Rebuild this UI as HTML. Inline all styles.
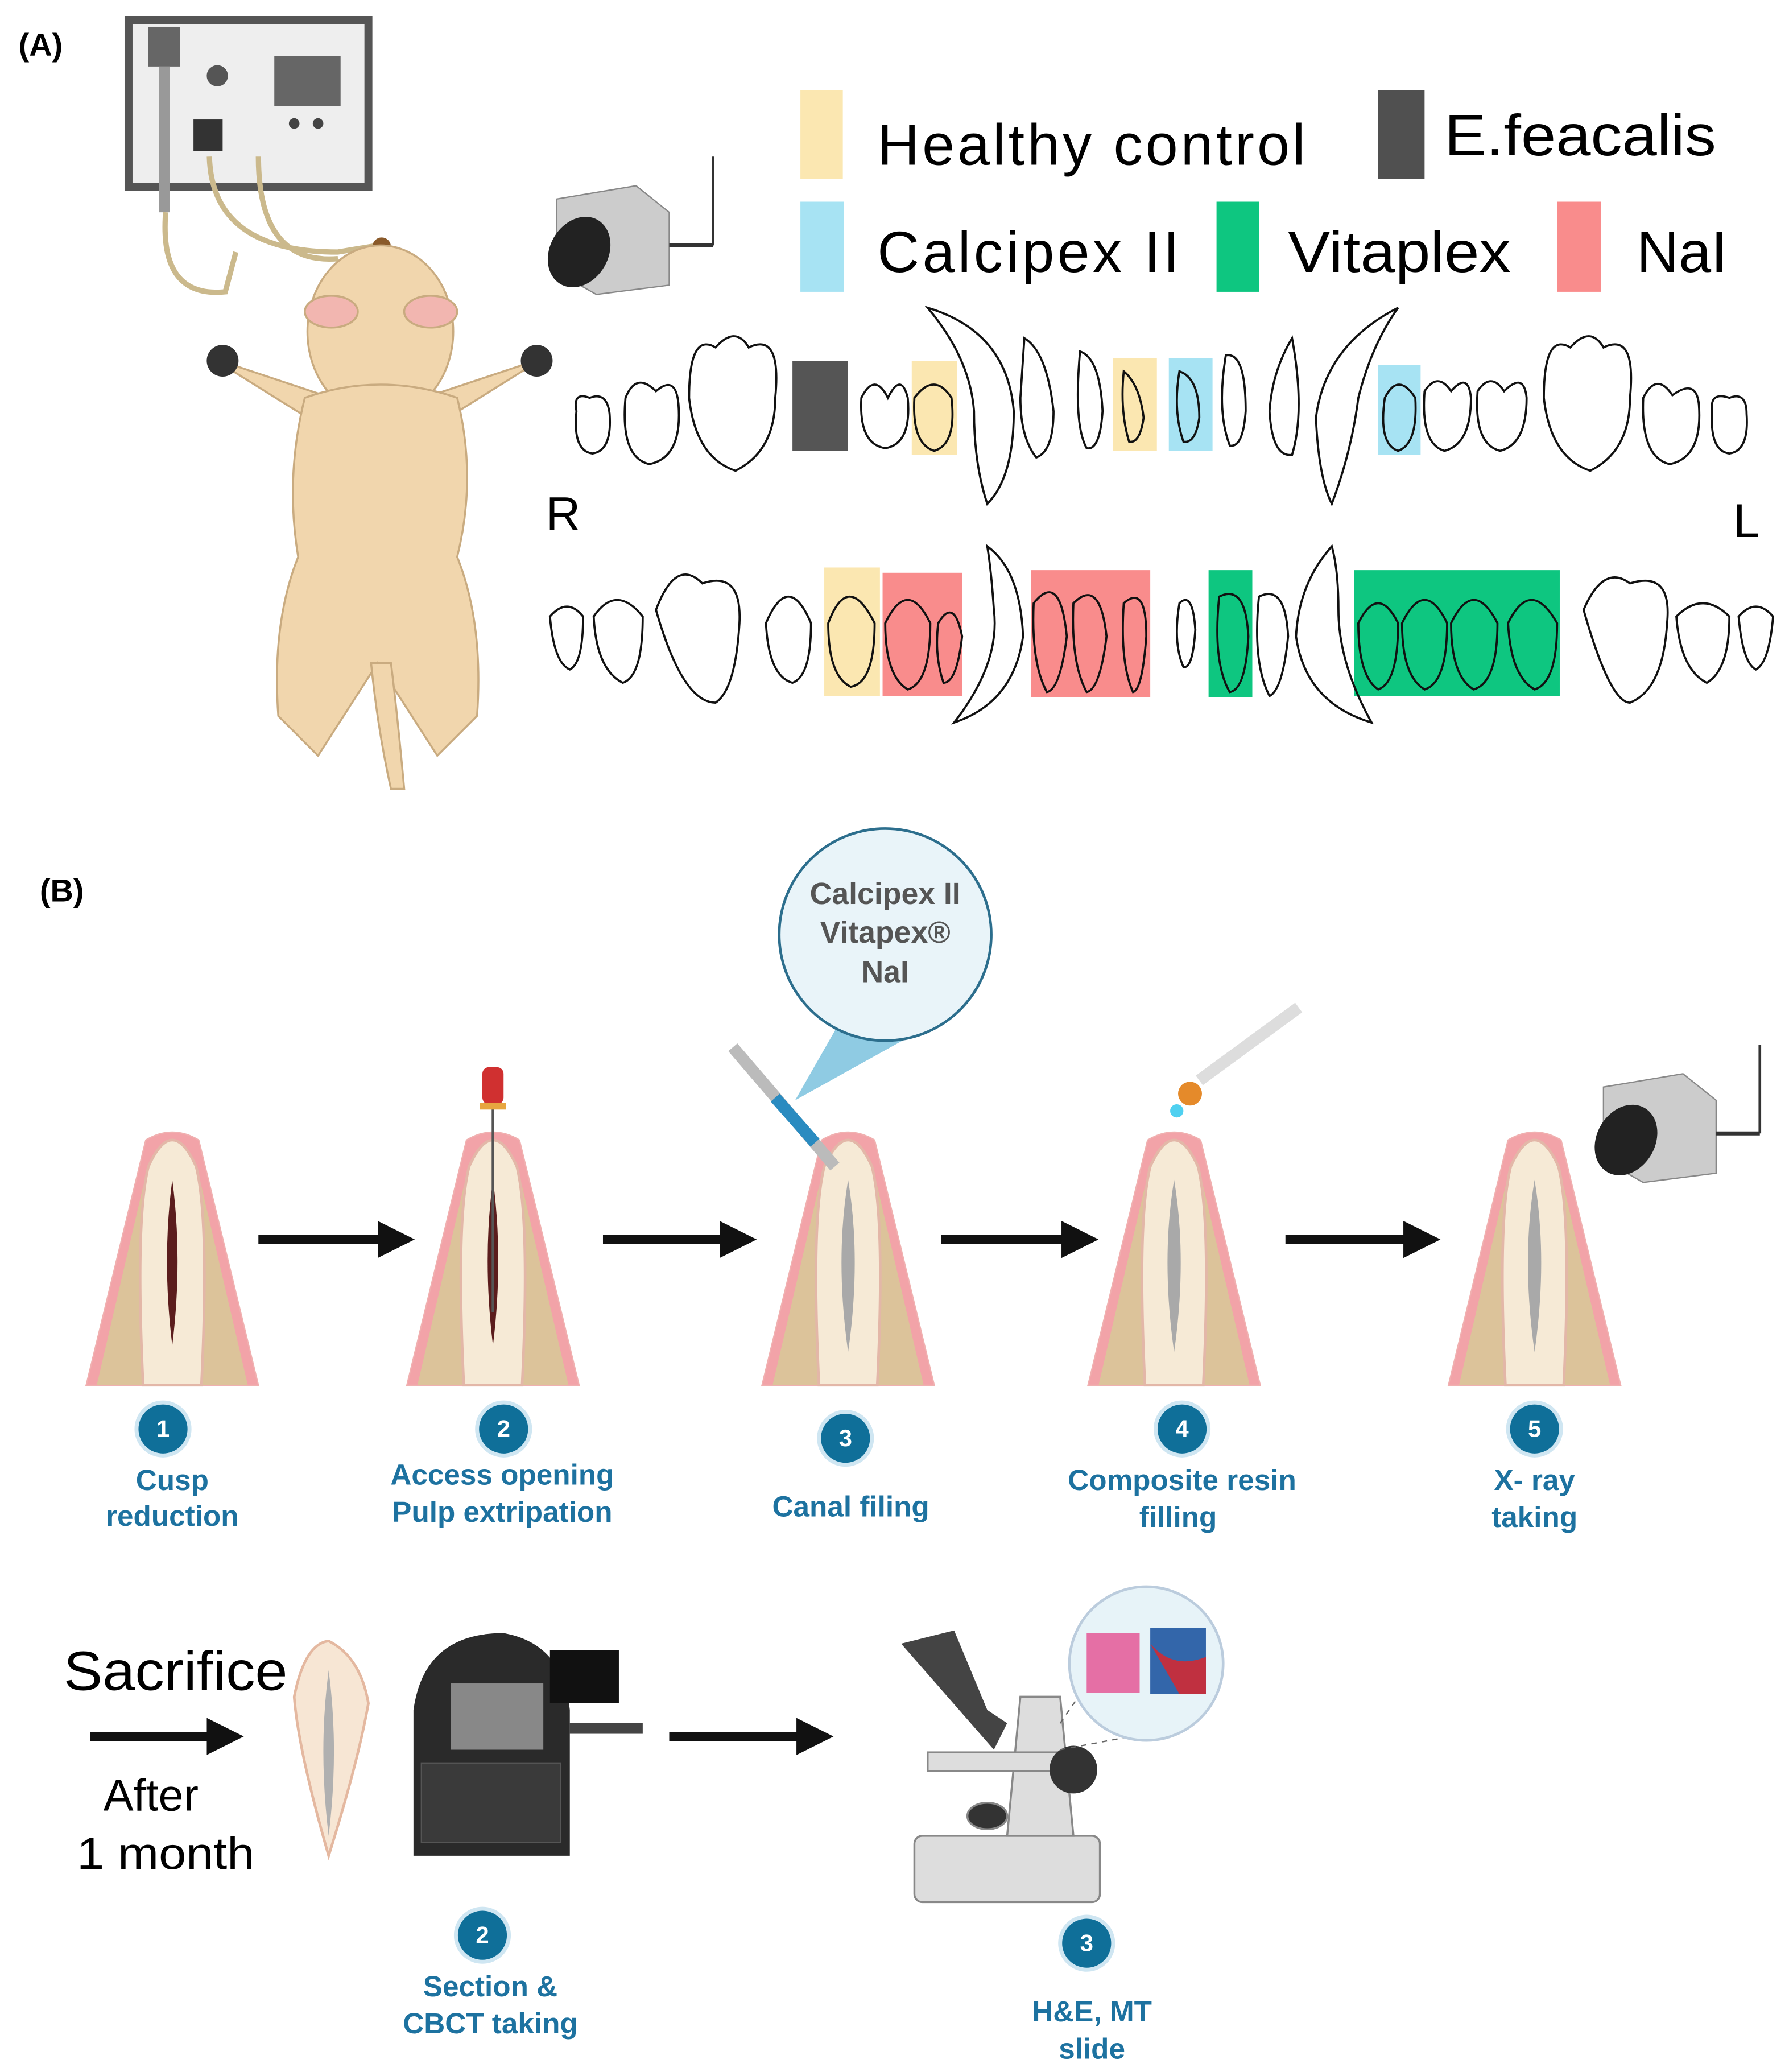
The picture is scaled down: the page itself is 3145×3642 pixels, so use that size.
<!DOCTYPE html>
<html><head><meta charset="utf-8"><style>
html,body{margin:0;padding:0;background:#fff;}
svg{display:block}
text{font-family:"Liberation Sans",sans-serif}
.lab{font-weight:bold;fill:#1d72a0;font-size:22px;text-anchor:middle}
</style></head><body>
<svg width="3145" height="3642" viewBox="0 0 1350 1563" xmlns="http://www.w3.org/2000/svg">
<defs>
<g id="tooth">
  <path d="M-65,185 L-20,0 Q0,-12 20,0 L65,185 Z" fill="#f2a3a8" stroke="#f0b0b0" stroke-width="1"/>
  <path d="M-57,185 L-22,35 L22,35 L57,185 Z" fill="#dcc39a"/>
  <path d="M-22,185 Q-28,60 -18,20 Q0,-20 18,20 Q28,60 22,185 Z" fill="#f6ead6" stroke="#e3b7a8" stroke-width="2"/>
</g>
<g id="num"><circle r="20" fill="#0f6f99" stroke="#cfe6f2" stroke-width="3"/></g>
<marker id="ah" markerWidth="4" markerHeight="4" refX="1" refY="2" orient="auto"><path d="M0,0 L4,2 L0,4 Z" fill="#111"/></marker>
</defs>

<text x="14" y="42" font-size="24" font-weight="bold">(A)</text>
<rect x="97" y="15" width="181" height="126" fill="#eee" stroke="#555" stroke-width="6"/>
<rect x="207" y="42" width="50" height="38" fill="#666"/>
<circle cx="164" cy="57" r="8" fill="#555"/>
<circle cx="222" cy="93" r="4" fill="#444"/><circle cx="240" cy="93" r="4" fill="#444"/>
<rect x="146" y="90" width="22" height="24" fill="#333"/>
<rect x="112" y="20" width="24" height="30" fill="#666"/>
<rect x="120" y="50" width="8" height="110" fill="#999"/>
<path d="M125,160 Q120,225 170,220 L178,190 M158,118 Q160,190 255,190 L285,185 M195,118 Q195,200 255,195" fill="none" stroke="#cbb98c" stroke-width="4"/>
<circle cx="288" cy="186" r="7" fill="#8a5a2a"/>
<g fill="#f1d6ad" stroke="#c9ab80" stroke-width="1.5">
<path d="M160,270 L240,320 L250,300 Z"/><path d="M410,270 L330,320 L320,300 Z"/>
<ellipse cx="287" cy="250" rx="55" ry="65"/>
<path d="M230,300 Q215,360 225,420 Q205,470 210,540 L240,570 L285,500 L330,570 L360,540 Q365,470 345,420 Q360,360 345,300 Q287,280 230,300 Z"/>
<path d="M280,500 Q285,550 295,595 L305,595 Q300,540 295,500 Z"/>
<ellipse cx="250" cy="235" rx="20" ry="12" fill="#f2b6b0"/><ellipse cx="325" cy="235" rx="20" ry="12" fill="#f2b6b0"/>
</g>
<ellipse cx="168" cy="272" rx="12" ry="12" fill="#333"/><ellipse cx="405" cy="272" rx="12" ry="12" fill="#333"/>
<g>
<path d="M420,150 L480,140 L505,160 L505,215 L450,222 L420,205 Z" fill="#ccc" stroke="#888"/>
<ellipse cx="437" cy="190" rx="22" ry="28" fill="#222" transform="rotate(30 437 190)"/>
<line x1="505" y1="185" x2="538" y2="185" stroke="#333" stroke-width="3"/><line x1="538" y1="185" x2="538" y2="118" stroke="#333" stroke-width="2"/>
</g>
<rect x="604" y="68" width="32" height="67" fill="#fbe7b1"/>
<text x="662" y="124" font-size="44" textLength="323" lengthAdjust="spacing">Healthy  control</text>
<rect x="1040" y="68" width="35" height="67" fill="#505050"/>
<text x="1090" y="117" font-size="44" textLength="205" lengthAdjust="spacingAndGlyphs">E.feacalis</text>
<rect x="604" y="152" width="33" height="68" fill="#a7e3f3"/>
<text x="662" y="205" font-size="44" textLength="228" lengthAdjust="spacing">Calcipex  II</text>
<rect x="918" y="152" width="32" height="68" fill="#0ec680"/>
<text x="972" y="205" font-size="44" textLength="168" lengthAdjust="spacingAndGlyphs">Vitaplex</text>
<rect x="1175" y="152" width="33" height="68" fill="#f98c8c"/>
<text x="1235" y="205" font-size="44">NaI</text>
<rect x="598" y="272" width="42" height="68" fill="#555"/>
<rect x="688" y="272" width="34" height="71" fill="#fbe7b1"/>
<rect x="840" y="270" width="33" height="70" fill="#fbe7b1"/>
<rect x="882" y="270" width="33" height="70" fill="#a7e3f3"/>
<rect x="1040" y="275" width="32" height="68" fill="#a7e3f3"/>
<g fill="none" stroke="#111" stroke-width="1.6">
<path d="M435,310 Q432,295 445,300 Q458,295 460,312 Q462,340 447,342 Q432,340 435,310Z"/>
<path d="M472,300 Q480,280 495,295 Q510,282 512,305 Q515,345 490,350 Q468,345 472,300Z"/>
<path d="M520,300 Q520,250 540,262 Q555,245 565,262 Q590,250 585,300 Q585,340 555,355 Q525,345 520,300Z"/>
<path d="M650,300 Q660,280 670,300 Q680,280 685,300 Q688,335 668,338 Q648,335 650,300Z"/>
<path d="M700,232 Q760,250 765,310 Q765,360 745,380 Q735,350 735,310 Q732,270 700,232Z"/>
<path d="M690,300 Q705,280 718,300 Q722,335 705,340 Q688,335 690,300Z"/>
<path d="M773,255 Q790,265 795,310 Q795,340 782,345 Q770,330 770,300Z"/>
<path d="M815,265 Q830,270 832,310 Q830,340 820,338 Q810,320 815,265Z"/>
<path d="M848,280 Q860,290 863,315 Q860,335 852,333 Q845,310 848,280Z"/>
<path d="M890,280 Q905,285 905,315 Q902,335 893,333 Q885,310 890,280Z"/>
<path d="M925,268 Q940,265 940,310 Q938,338 928,336 Q918,310 925,268Z"/>
<path d="M975,255 Q960,280 958,310 Q960,345 975,343 Q985,310 975,255Z"/>
<path d="M1055,232 Q1000,260 993,315 Q995,360 1005,380 Q1020,340 1025,300 Q1035,260 1055,232Z"/>
<path d="M1045,300 Q1055,280 1068,300 Q1070,335 1055,340 Q1040,335 1045,300Z"/>
<path d="M1075,295 Q1085,280 1095,295 Q1108,280 1110,300 Q1110,335 1090,340 Q1072,335 1075,295Z"/>
<path d="M1115,295 Q1125,280 1135,295 Q1150,280 1152,300 Q1152,335 1132,340 Q1112,335 1115,295Z"/>
<path d="M1165,300 Q1165,250 1185,262 Q1200,245 1210,262 Q1235,250 1230,300 Q1230,340 1200,355 Q1170,345 1165,300Z"/>
<path d="M1240,300 Q1250,280 1262,298 Q1280,285 1282,305 Q1285,345 1260,350 Q1238,345 1240,300Z"/>
<path d="M1292,310 Q1290,295 1305,300 Q1318,295 1318,312 Q1320,340 1305,342 Q1290,340 1292,310Z"/>
</g>
<text x="412" y="400" font-size="36">R</text>
<text x="1308" y="405" font-size="36">L</text>
<rect x="622" y="428" width="42" height="97" fill="#fbe7b1"/>
<rect x="666" y="432" width="60" height="93" fill="#f98c8c"/>
<rect x="778" y="430" width="90" height="96" fill="#f98c8c"/>
<rect x="912" y="430" width="33" height="96" fill="#0ec680"/>
<rect x="1022" y="430" width="155" height="95" fill="#0ec680"/>
<g fill="none" stroke="#111" stroke-width="1.6">
<path d="M415,465 Q428,450 440,465 Q440,500 430,505 Q418,500 415,465Z"/>
<path d="M448,465 Q465,440 485,465 Q485,510 470,515 Q450,505 448,465Z"/>
<path d="M495,460 Q510,420 530,440 Q560,430 558,470 Q555,520 540,530 Q515,530 495,460Z"/>
<path d="M578,470 Q595,430 612,470 Q612,510 598,515 Q580,510 578,470Z"/>
<path d="M625,470 Q640,430 660,470 Q660,515 642,518 Q625,510 625,470Z"/>
<path d="M668,470 Q685,435 702,470 Q702,515 685,520 Q668,510 668,470Z"/>
<path d="M708,470 Q720,450 726,480 Q722,515 712,515 Q705,495 708,470Z"/>
<path d="M745,412 Q770,430 772,480 Q765,530 720,545 Q755,500 750,460 Q748,430 745,412Z"/>
<path d="M780,455 Q800,430 805,480 Q800,520 790,522 Q778,500 780,455Z"/>
<path d="M810,455 Q830,435 835,480 Q830,520 820,522 Q808,500 810,455Z"/>
<path d="M848,455 Q865,440 865,480 Q862,520 855,522 Q845,500 848,455Z"/>
<path d="M890,455 Q900,445 902,475 Q900,505 893,503 Q885,485 890,455Z"/>
<path d="M920,450 Q940,440 942,480 Q940,520 928,522 Q915,500 920,450Z"/>
<path d="M950,450 Q970,440 972,480 Q968,520 958,525 Q945,500 950,450Z"/>
<path d="M1005,412 Q980,440 978,480 Q985,530 1035,545 Q1010,500 1010,460 Q1010,430 1005,412Z"/>
<path d="M1025,470 Q1040,440 1055,470 Q1055,515 1040,520 Q1025,510 1025,470Z"/>
<path d="M1058,470 Q1075,435 1092,470 Q1092,515 1075,520 Q1058,510 1058,470Z"/>
<path d="M1095,470 Q1112,435 1130,470 Q1130,515 1112,520 Q1095,510 1095,470Z"/>
<path d="M1138,470 Q1155,435 1175,470 Q1175,515 1158,520 Q1140,510 1138,470Z"/>
<path d="M1195,460 Q1210,425 1230,440 Q1262,430 1258,470 Q1255,520 1230,530 Q1215,530 1195,460Z"/>
<path d="M1265,465 Q1285,445 1305,465 Q1305,505 1288,515 Q1268,505 1265,465Z"/>
<path d="M1312,465 Q1325,450 1338,465 Q1335,500 1325,505 Q1315,500 1312,465Z"/>
</g>

<text x="30" y="680" font-size="24" font-weight="bold">(B)</text>
<use href="#tooth" x="130" y="860"/>
<use href="#tooth" x="372" y="860"/>
<use href="#tooth" x="640" y="860"/>
<use href="#tooth" x="886" y="860"/>
<use href="#tooth" x="1158" y="860"/>
<path d="M130,890 Q122,950 130,1015 Q138,950 130,890Z" fill="#5b1d1d"/>
<path d="M372,890 Q364,950 372,1015 Q380,950 372,890Z" fill="#5b1d1d"/>
<g fill="#a9a9a9"><path d="M640,890 Q630,950 640,1020 Q650,950 640,890Z"/><path d="M886,890 Q876,950 886,1020 Q896,950 886,890Z"/><path d="M1158,890 Q1148,950 1158,1020 Q1168,950 1158,890Z"/></g>
<rect x="364" y="805" width="16" height="28" rx="5" fill="#d03030"/><line x1="372" y1="833" x2="372" y2="990" stroke="#555" stroke-width="2"/><rect x="362" y="832" width="20" height="5" fill="#e7a640"/>
<g stroke="#111" stroke-width="7" marker-end="url(#ah)">
<line x1="195" y1="935" x2="292" y2="935"/><line x1="455" y1="935" x2="550" y2="935"/>
<line x1="710" y1="935" x2="808" y2="935"/><line x1="970" y1="935" x2="1066" y2="935"/>
<line x1="68" y1="1310" x2="163" y2="1310"/><line x1="505" y1="1310" x2="608" y2="1310"/>
</g>
<path d="M600,830 L640,760 L690,780 Z" fill="#8fcbe3"/>
<circle cx="668" cy="705" r="80" fill="#e9f4f9" stroke="#2c6e8d" stroke-width="2"/>
<g font-size="23" font-weight="bold" fill="#555" text-anchor="middle"><text x="668" y="682">Calcipex II</text><text x="668" y="711">Vitapex®</text><text x="668" y="741">NaI</text></g>
<line x1="553" y1="790" x2="630" y2="880" stroke="#bbb" stroke-width="9"/><line x1="585" y1="828" x2="615" y2="862" stroke="#2a8bc0" stroke-width="9"/>
<line x1="905" y1="815" x2="980" y2="760" stroke="#ddd" stroke-width="9"/><circle cx="898" cy="825" r="9" fill="#e58a2a"/><circle cx="888" cy="838" r="5" fill="#4fd0f0"/>
<g transform="translate(790,670)">
<path d="M420,150 L480,140 L505,160 L505,215 L450,222 L420,205 Z" fill="#ccc" stroke="#888"/>
<ellipse cx="437" cy="190" rx="22" ry="28" fill="#222" transform="rotate(30 437 190)"/>
<line x1="505" y1="185" x2="538" y2="185" stroke="#333" stroke-width="3"/><line x1="538" y1="185" x2="538" y2="118" stroke="#333" stroke-width="2"/>
</g>
<use href="#num" x="123" y="1078"/><use href="#num" x="380" y="1078"/><use href="#num" x="638" y="1085"/><use href="#num" x="892" y="1078"/><use href="#num" x="1158" y="1078"/>
<use href="#num" x="364" y="1460"/><use href="#num" x="820" y="1466"/>
<g fill="#fff" font-size="18" font-weight="bold" text-anchor="middle">
<text x="123" y="1084">1</text><text x="380" y="1084">2</text><text x="638" y="1091">3</text><text x="892" y="1084">4</text><text x="1158" y="1084">5</text><text x="364" y="1466">2</text><text x="820" y="1472">3</text></g>
<text class="lab" x="130" y="1124">Cusp</text><text class="lab" x="130" y="1151">reduction</text>
<text class="lab" x="379" y="1120">Access opening</text><text class="lab" x="379" y="1148">Pulp extripation</text>
<text class="lab" x="642" y="1144">Canal filing</text>
<text class="lab" x="892" y="1124">Composite resin</text><text class="lab" x="889" y="1152">filling</text>
<text class="lab" x="1158" y="1124">X- ray</text><text class="lab" x="1158" y="1152">taking</text>
<text class="lab" x="370" y="1506">Section &amp;</text><text class="lab" x="370" y="1534">CBCT taking</text>
<text class="lab" x="824" y="1525">H&amp;E, MT</text><text class="lab" x="824" y="1553">slide</text>
<text x="48" y="1275" font-size="42" textLength="169" lengthAdjust="spacingAndGlyphs">Sacrifice</text>
<text x="78" y="1366" font-size="34">After</text>
<text x="58" y="1410" font-size="34" textLength="134" lengthAdjust="spacingAndGlyphs">1 month</text>
<path d="M248,1400 Q225,1320 222,1280 Q230,1240 248,1238 Q272,1250 278,1285 Q270,1330 248,1400Z" fill="#f7e6d4" stroke="#e4b8a0" stroke-width="2"/>
<path d="M248,1385 Q240,1320 248,1260 Q256,1320 248,1385Z" fill="#b0b0b0"/>
<path d="M312,1400 L312,1290 Q320,1232 380,1232 Q425,1240 430,1290 L430,1400 Z" fill="#2a2a2a"/>
<rect x="340" y="1270" width="70" height="50" fill="#888"/>
<rect x="415" y="1245" width="52" height="40" fill="#111"/>
<rect x="430" y="1300" width="55" height="8" fill="#444"/>
<rect x="318" y="1330" width="105" height="60" fill="#3a3a3a" stroke="#555"/>
<g fill="#ddd" stroke="#888" stroke-width="1.5">
<rect x="690" y="1385" width="140" height="50" rx="6"/>
<path d="M770,1280 L800,1280 L810,1385 L760,1385 Z"/>
<rect x="700" y="1322" width="110" height="14"/>
<ellipse cx="745" cy="1370" rx="15" ry="10" fill="#333"/>
</g>
<path d="M680,1240 L720,1230 L745,1290 L760,1300 L750,1320 Z" fill="#444"/>
<circle cx="810" cy="1335" r="18" fill="#333"/>
<line x1="800" y1="1300" x2="845" y2="1235" stroke="#666" stroke-dasharray="4,4"/><line x1="800" y1="1320" x2="880" y2="1305" stroke="#666" stroke-dasharray="4,4"/>
<circle cx="865" cy="1255" r="58" fill="#e7f3f8" stroke="#bcd" stroke-width="2"/>
<rect x="820" y="1232" width="40" height="45" fill="#e56fa5"/><rect x="868" y="1228" width="42" height="50" fill="#3366aa"/><path d="M868,1240 Q885,1260 910,1250 L910,1278 L890,1278Z" fill="#c03040"/>
</svg>
</body></html>
